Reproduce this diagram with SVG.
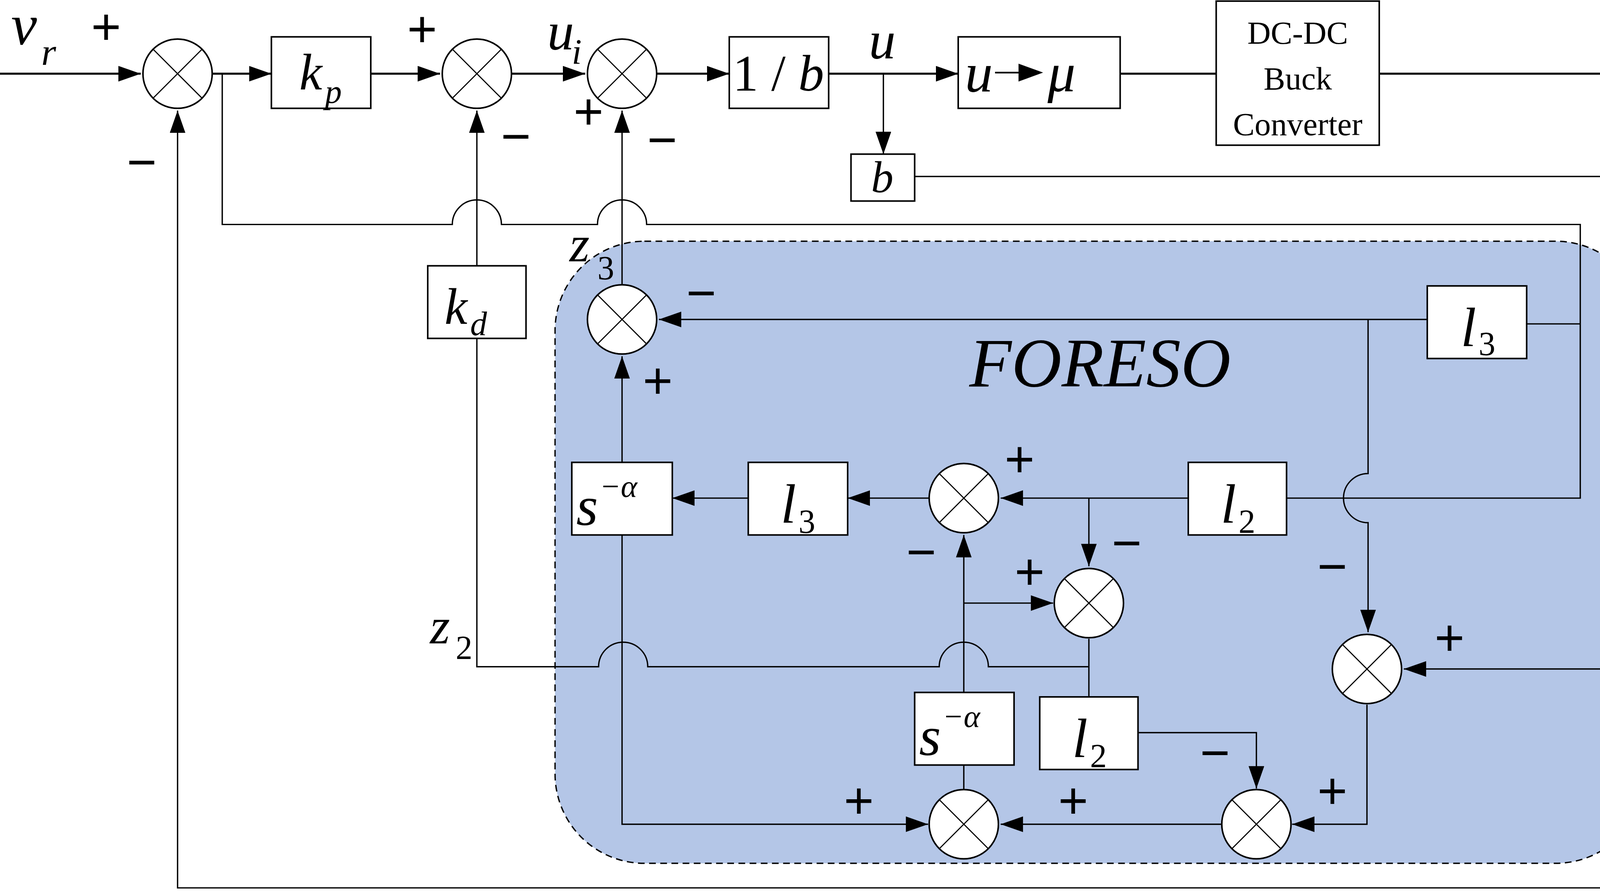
<svg xmlns="http://www.w3.org/2000/svg" width="4483" height="2286" viewBox="0 0 4483 2286">
<style>
.b{fill:#fff;stroke:#000;stroke-width:1.4}
.c{fill:none;stroke:#000;stroke-width:1.2}
.w{fill:none;stroke:#000;stroke-width:1.8}
.v{font-family:"Liberation Serif",serif;font-style:italic;fill:#000}
.n{font-family:"Liberation Serif",serif;fill:#000}
.s{font-family:"Liberation Sans",sans-serif;font-size:46px;fill:#000;text-anchor:middle;dominant-baseline:central}
</style>
<defs>
<marker id="a" markerUnits="userSpaceOnUse" markerWidth="22" markerHeight="16" refX="20" refY="7" orient="auto"><path d="M0,0L20,7L0,14z" fill="#000"/></marker>
<g id="x"><circle r="31" fill="#fff" stroke="#000" stroke-width="1.4"/><path d="M-22,-22L22,22M22,-22L-22,22" stroke="#000" stroke-width="1"/></g>
</defs>
<g transform="scale(2.859)">
<rect id="foreso" x="497" y="216" width="976" height="557" rx="80" fill="#b4c6e7" stroke="#000" stroke-width="1.2" stroke-dasharray="6,4"/>
<text class="v" x="985" y="346" font-size="62" text-anchor="middle">FORESO</text>
<g id="connectors" marker-end="url(#a)">
<path class="w" d="M0,66H126"/>
<path class="w" d="M190,66H243"/>
<path class="w" d="M332,66H394"/>
<path class="w" d="M458,66H524"/>
<path class="w" d="M588,66H653"/>
<path class="w" d="M742,66H858"/>
<path class="w" d="M1003,66H1089" marker-end="none"/>
<path class="w" d="M1235,66H1568"/>
<path class="c" d="M791,66V138"/>
<path class="c" d="M819,158H1447V599H1257"/>
<path class="c" d="M1503,66V795H159V99"/>
<path class="c" d="M199,66V201H405A22,22 0 0 1 449,201H535A22,22 0 0 1 579,201H1415V446H1152" marker-end="none"/>
<path class="c" d="M1367,290H1415" marker-end="none"/>
<path class="c" d="M427,238V99"/>
<path class="c" d="M427,303V597H536A22,22 0 0 1 580,597H841A22,22 0 0 1 885,597H975" marker-end="none"/>
<path class="c" d="M557,255V99"/>
<path class="c" d="M1278,286H590"/>
<path class="c" d="M1225,286V424A22,22 0 0 0 1225,468V566"/>
<path class="c" d="M557,414V319"/>
<path class="c" d="M1064,446H896"/>
<path class="c" d="M832,446H759"/>
<path class="c" d="M670,446H602"/>
<path class="c" d="M975,446V507"/>
<path class="c" d="M863,620V479"/>
<path class="c" d="M863,540H943"/>
<path class="c" d="M975,572V624" marker-end="none"/>
<path class="c" d="M1019,656H1125V706"/>
<path class="c" d="M1224,631V738H1157"/>
<path class="c" d="M1094,738H896"/>
<path class="c" d="M557,479V738H831"/>
<path class="c" d="M863,685V707" marker-end="none"/>
</g>
<g id="S1" transform="translate(159,66)"><use href="#x"/></g>
<g id="S2" transform="translate(427,66)"><use href="#x"/></g>
<g id="S3" transform="translate(557,66)"><use href="#x"/></g>
<g id="Sz3" transform="translate(557,286)"><use href="#x"/></g>
<g id="SA" transform="translate(863,446)"><use href="#x"/></g>
<g id="SB" transform="translate(975,540)"><use href="#x"/></g>
<g id="SE" transform="translate(1224,599)"><use href="#x"/></g>
<g id="SD" transform="translate(1125,738)"><use href="#x"/></g>
<g id="SC" transform="translate(863,738)"><use href="#x"/></g>
<g id="kp"><rect class="b" x="243" y="33" width="89" height="64"/><text class="v" x="268" y="80" font-size="46">k</text><text class="v" x="291" y="92" font-size="30">p</text></g>
<g id="inv_b"><rect class="b" x="653" y="33" width="89" height="64"/><text class="n" x="697" y="81" font-size="46" text-anchor="middle">1 / <tspan font-style="italic">b</tspan></text></g>
<g id="umu"><rect class="b" x="858" y="33" width="145" height="64"/><text class="v" x="864" y="82" font-size="50">u</text><path d="M891,65H915" stroke="#000" stroke-width="1.5"/><path d="M912,57L934,65L912,73z"/><text class="v" x="938" y="82" font-size="50">μ</text></g>
<g id="buck"><rect class="b" x="1089" y="1" width="146" height="129"/><text class="n" x="1162" y="39" font-size="29" text-anchor="middle">DC-DC</text><text class="n" x="1162" y="80" font-size="29" text-anchor="middle">Buck</text><text class="n" x="1162" y="121" font-size="29" text-anchor="middle">Converter</text></g>
<g id="b"><rect class="b" x="762" y="138" width="57" height="42"/><text class="v" x="790" y="172" font-size="40" text-anchor="middle">b</text></g>
<g id="kd"><rect class="b" x="383" y="238" width="88" height="65"/><text class="v" x="398" y="290" font-size="46">k</text><text class="v" x="421" y="300" font-size="30">d</text></g>
<g id="l3top"><rect class="b" x="1278" y="256" width="89" height="65"/><text class="v" x="1308" y="310" font-size="50">l</text><text class="n" x="1324" y="318" font-size="30">3</text></g>
<g id="sa1"><rect class="b" x="512" y="414" width="90" height="65"/><text class="v" x="516" y="470" font-size="50">s</text><text class="v" x="537" y="445" font-size="28">−α</text></g>
<g id="l3mid"><rect class="b" x="670" y="414" width="89" height="65"/><text class="v" x="699" y="468" font-size="50">l</text><text class="n" x="715" y="477" font-size="30">3</text></g>
<g id="l2mid"><rect class="b" x="1064" y="414" width="88" height="65"/><text class="v" x="1093" y="468" font-size="50">l</text><text class="n" x="1109" y="477" font-size="30">2</text></g>
<g id="sa2"><rect class="b" x="819" y="620" width="89" height="65"/><text class="v" x="823" y="676" font-size="50">s</text><text class="v" x="844" y="651" font-size="28">−α</text></g>
<g id="l2low"><rect class="b" x="931" y="624" width="88" height="65"/><text class="v" x="960" y="678" font-size="50">l</text><text class="n" x="976" y="687" font-size="30">2</text></g>
<g id="labels">
<text class="v" x="10" y="40" font-size="52">v</text><text class="v" x="37" y="58" font-size="34">r</text>
<text class="v" x="490" y="44" font-size="48">u</text><text class="v" x="512" y="57" font-size="32">i</text>
<text class="v" x="778" y="52" font-size="48">u</text>
<text class="v" x="1502" y="52" font-size="48">y</text>
<text class="v" x="510" y="234" font-size="46">z</text><text class="n" x="535" y="250" font-size="30">3</text>
<text class="v" x="385" y="576" font-size="46">z</text><text class="n" x="408" y="590" font-size="30">2</text>
</g>
<g id="signs">
<text class="s" x="95" y="24">+</text><text class="s" x="127" y="145">−</text>
<text class="s" x="378" y="26">+</text><text class="s" x="462" y="122">−</text>
<text class="s" x="527" y="100">+</text><text class="s" x="593" y="125">−</text>
<text class="s" x="628" y="262">−</text><text class="s" x="589" y="341">+</text>
<text class="s" x="913" y="411">+</text><text class="s" x="1009" y="486">−</text>
<text class="s" x="825" y="494">−</text><text class="s" x="922" y="512">+</text>
<text class="s" x="1193" y="507">−</text><text class="s" x="1298" y="571">+</text>
<text class="s" x="1088" y="674">−</text><text class="s" x="1193" y="708">+</text>
<text class="s" x="769" y="717">+</text><text class="s" x="961" y="717">+</text>
</g>
</g>
</svg>
